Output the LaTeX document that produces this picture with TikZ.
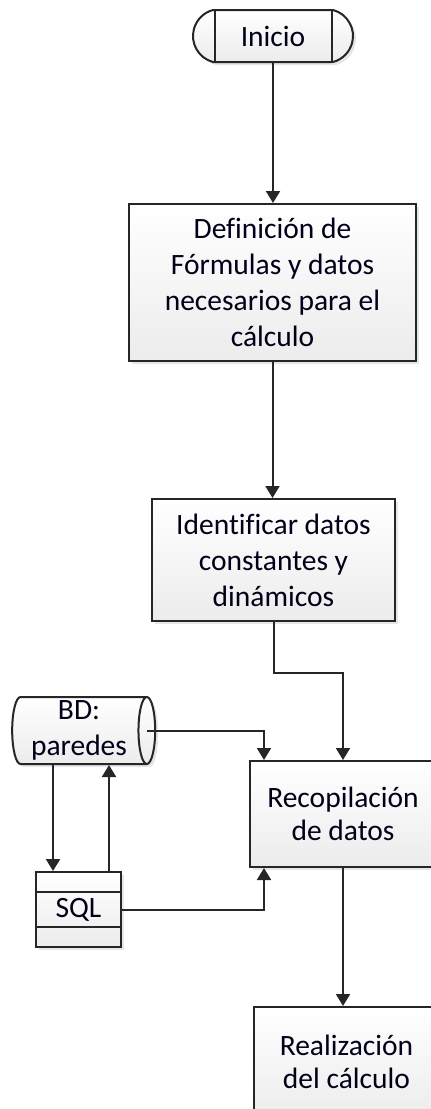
\documentclass[tikz,border=0pt]{standalone}
\usepackage{fontspec}
\setmainfont{Carlito}[Ligatures={TeX,NoCommon}]
\usetikzlibrary{arrows.meta,shapes.geometric,shapes.misc,shadows}
\begin{document}
\begin{tikzpicture}[x=1pt,y=-1pt,
    caja/.style={draw=gray!30!black,line width=2pt,top color=white,bottom color=gray!15,
        drop shadow={shadow xshift=3pt,shadow yshift=-3pt,opacity=0.2},
        align=center,font=\fontsize{29.5}{36}\selectfont,text=black!90!blue,inner sep=0pt},
    linea/.style={draw=gray!30!black,line width=2pt},
    flecha/.style={linea,-{Triangle[length=12pt,width=14pt]}}]
                \useasboundingbox (0,0) rectangle (431,1109);
                \node[caja,rounded rectangle,rounded rectangle arc length=150,minimum width=160pt,minimum height=52pt] (ini) at (273,36) {Inicio};
                \draw[linea] ([xshift=-58pt]ini.north) -- ([xshift=-58pt]ini.south);
                \draw[linea] ([xshift=59pt]ini.north) -- ([xshift=59pt]ini.south);
                \node[caja,minimum width=287pt,minimum height=157pt] (def) at (272.5,282.5) {Definición de\\Fórmulas y datos\\necesarios para el\\cálculo};
                \node[caja,minimum width=243pt,minimum height=122pt] (ide) at (273.5,560) {Identificar datos\\constantes y\\dinámicos};
                \node[caja,cylinder,shape aspect=0.28,minimum width=67pt,minimum height=143pt] (bd) at (79,730.5) {BD:\\paredes};
                \node[caja,font=\fontsize{29.5}{33}\selectfont,minimum width=186pt,minimum height=106pt] (rec) at (343,814) {Recopilación\\de datos};
                \node[caja,minimum width=85pt,minimum height=75pt] (sql) at (78.5,909.5) {SQL};
                \draw[linea] ([yshift=-21pt]sql.north west) -- ([yshift=-21pt]sql.north east);
                \draw[linea] ([yshift=21pt]sql.south west) -- ([yshift=21pt]sql.south east);
                \node[caja,font=\fontsize{29.5}{33}\selectfont,minimum width=185pt,minimum height=110pt] (rea) at (346.5,1062) {Realización\\del cálculo};
                \draw[flecha] (ini.south) -- (ini.south |- def.north);
                \draw[flecha] (def.south) -- (def.south |- ide.north);
                \draw[flecha] (ide.south) -- ++(0,51) -| (rec.north);
                \draw[flecha] ([xshift=-9pt]bd.east) -| ([xshift=15pt]rec.north west);
                \draw[flecha] ([xshift=-26pt]bd.south) -- ([xshift=-26pt]bd.south |- sql.north);
                \draw[flecha] ([xshift=-13pt]sql.north east) -- ([xshift=-13pt]sql.north east |- bd.south);
                \draw[flecha] (sql.east) -| ([xshift=15pt]rec.south west);
                \draw[flecha] (rec.south) -- (rec.south |- rea.north);
            \end{tikzpicture}
\end{document}
